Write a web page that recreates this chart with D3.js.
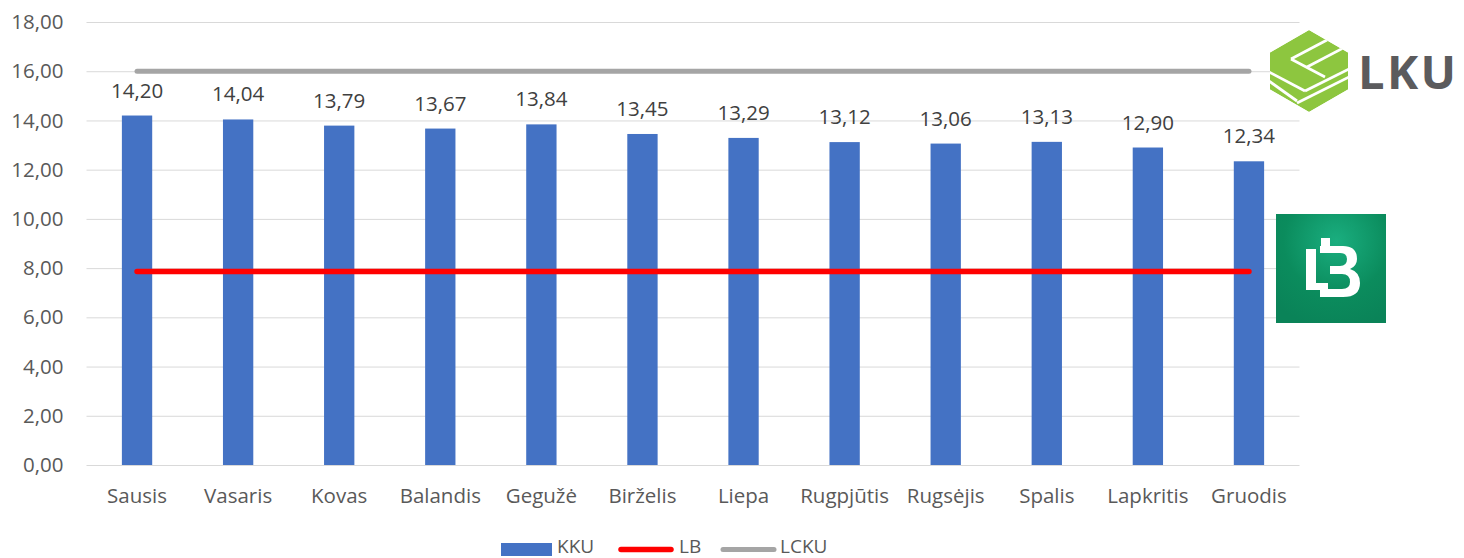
<!DOCTYPE html>
<html><head><meta charset="utf-8">
<script src="https://cdn.jsdelivr.net/npm/d3@7"></script>
<style>body{margin:0;background:#fff;overflow:hidden}svg{display:block;font-family:"Open Sans","Noto Sans",sans-serif}</style>
</head><body>
<svg id="c" width="1464" height="558"></svg>
<script>
const categories = ["Sausis","Vasaris","Kovas","Balandis","Gegužė","Birželis","Liepa","Rugpjūtis","Rugsėjis","Spalis","Lapkritis","Gruodis"];
const kku = [14.20,14.04,13.79,13.67,13.84,13.45,13.29,13.12,13.06,13.13,12.90,12.34];
const lb = [7.86,7.86,7.86,7.86,7.86,7.86,7.86,7.86,7.86,7.86,7.86,7.86];
const lcku = [16,16,16,16,16,16,16,16,16,16,16,16];
const yTicks = [0,2,4,6,8,10,12,14,16,18];
const seriesNames = ["KKU","LB","LCKU"];

const svg = d3.select("#c");
const fmt = v => d3.format(".2f")(v).replace(".", ",");
const x = d3.scaleBand().domain(categories).range([86.5, 1299.5]).paddingInner(0.7).paddingOuter(0.35);
const xc = d => x(d) + x.bandwidth()/2;
const y = d3.scaleLinear().domain([0,18]).range([465,22]);
const FS = 20.5;

// gridlines
svg.append("g").selectAll("line").data(yTicks).join("line")
  .attr("x1",86.5).attr("x2",1299.5).attr("y1",d=>y(d)+0.5).attr("y2",d=>y(d)+0.5)
  .attr("stroke","#d9d9d9").attr("stroke-width",1);

// y axis
const ya = svg.append("g").attr("transform","translate(63.5,0)")
  .call(d3.axisLeft(y).tickValues(yTicks).tickFormat(fmt).tickSize(0).tickPadding(0));
ya.attr("font-family",null).attr("font-size",null);
ya.select(".domain").remove();
ya.selectAll("text").attr("font-size",FS).attr("fill","#595959");

// x axis
const xa = svg.append("g").attr("transform","translate(0,484)")
  .call(d3.axisBottom(x).tickSize(0).tickPadding(4));
xa.attr("font-family",null).attr("font-size",null);
xa.select(".domain").remove();
xa.selectAll("text").attr("font-size",FS).attr("fill","#595959");

// bars
svg.append("g").selectAll("rect").data(kku).join("rect")
  .attr("x",(d,i)=>x(categories[i])).attr("width",x.bandwidth())
  .attr("y",d=>y(d)).attr("height",d=>y(0)-y(d)).attr("fill","#4472c4");

// lines
const line = d3.line().x((d,i)=>xc(categories[i])).y(d=>y(d));
svg.append("path").datum(lcku).attr("d",line).attr("fill","none")
  .attr("stroke","#a5a5a5").attr("stroke-width",5).attr("stroke-linecap","round");
svg.append("path").datum(lb).attr("d",line).attr("fill","none")
  .attr("stroke","#ff0000").attr("stroke-width",5.5).attr("stroke-linecap","round");

// data labels
svg.append("g").selectAll("text").data(kku).join("text")
  .attr("x",(d,i)=>xc(categories[i])).attr("y",d=>y(d)-18)
  .attr("text-anchor","middle").attr("font-size",FS).attr("fill","#404040")
  .text(fmt);

// legend
const lg = svg.append("g");
const LFS = 19, LY = 553;
lg.append("rect").attr("x",501).attr("y",543).attr("width",51).attr("height",13).attr("fill","#4472c4");
lg.append("text").attr("x",557).attr("y",LY).attr("font-size",LFS).attr("fill","#595959").text(seriesNames[0]);
lg.append("line").attr("x1",621).attr("x2",671).attr("y1",549.5).attr("y2",549.5)
  .attr("stroke","#ff0000").attr("stroke-width",5.5).attr("stroke-linecap","round");
lg.append("text").attr("x",679).attr("y",LY).attr("font-size",LFS).attr("fill","#595959").text(seriesNames[1]);
lg.append("line").attr("x1",723).attr("x2",774).attr("y1",549.5).attr("y2",549.5)
  .attr("stroke","#a5a5a5").attr("stroke-width",5).attr("stroke-linecap","round");
lg.append("text").attr("x",780).attr("y",LY).attr("font-size",LFS).attr("fill","#595959").text(seriesNames[2]);

// LKU logo
const lk = svg.append("g").attr("transform","translate(1309,71)");
const hx = [[0,-41],[39,-18.5],[39,18.5],[0,41],[-39,18.5],[-39,-18.5]];
const defs = svg.append("defs");
defs.append("clipPath").attr("id","hexclip").append("polygon").attr("points",hx.map(p=>p.join(",")).join(" "));
const hg = lk.append("g").attr("clip-path","url(#hexclip)");
hg.append("polygon").attr("points",hx.map(p=>p.join(",")).join(" ")).attr("fill","#8dc63f");
const wl = [
  [[-18,-12],[18,-31]], [[-18,-12],[16,6]], [[-2,-4],[40,-26]],
  [[-40,1],[-4,20]], [[-4,20],[40,-2]], [[-12,32],[40,6]], [[-40,10],[-12,30]]
];
wl.forEach(s=>hg.append("line").attr("x1",s[0][0]).attr("y1",s[0][1]).attr("x2",s[1][0]).attr("y2",s[1][1])
  .attr("stroke","#fff").attr("stroke-width",2.8));
svg.append("text").attr("x",1358).attr("y",89).attr("font-size",47).attr("font-weight","bold")
  .attr("fill","#5b5b5d").attr("textLength",98).attr("font-family","'Open Sans','Noto Sans',sans-serif").text("LKU");

// LB logo
const gr = defs.append("radialGradient").attr("id","lbg").attr("cx","0.55").attr("cy","0.25").attr("r","0.8");
gr.append("stop").attr("offset","0").attr("stop-color","#1aae7f");
gr.append("stop").attr("offset","0.6").attr("stop-color","#0b8c5d");
gr.append("stop").attr("offset","1").attr("stop-color","#0a8358");
svg.append("rect").attr("x",1276).attr("y",214).attr("width",110).attr("height",109).attr("fill","url(#lbg)");
const lbg = svg.append("g").attr("fill","#fff");
lbg.append("rect").attr("x",1306).attr("y",249).attr("width",10).attr("height",41);
lbg.append("rect").attr("x",1306).attr("y",283).attr("width",22).attr("height",7);
lbg.append("rect").attr("x",1321).attr("y",238).attr("width",9).attr("height",10);
lbg.append("path").attr("fill-rule","evenodd").attr("d",
  "M1320,246 L1343,246 Q1357,246 1357,259 Q1357,266 1350,269 Q1360,272 1360,283 Q1360,297 1343,297 L1320,297 L1320,289 L1342,289 Q1350,289 1350,282 Q1350,274 1342,274 L1330,274 L1330,266 L1340,266 Q1347,266 1347,259 Q1347,253 1340,253 L1320,253 Z");
</script>
</body></html>
